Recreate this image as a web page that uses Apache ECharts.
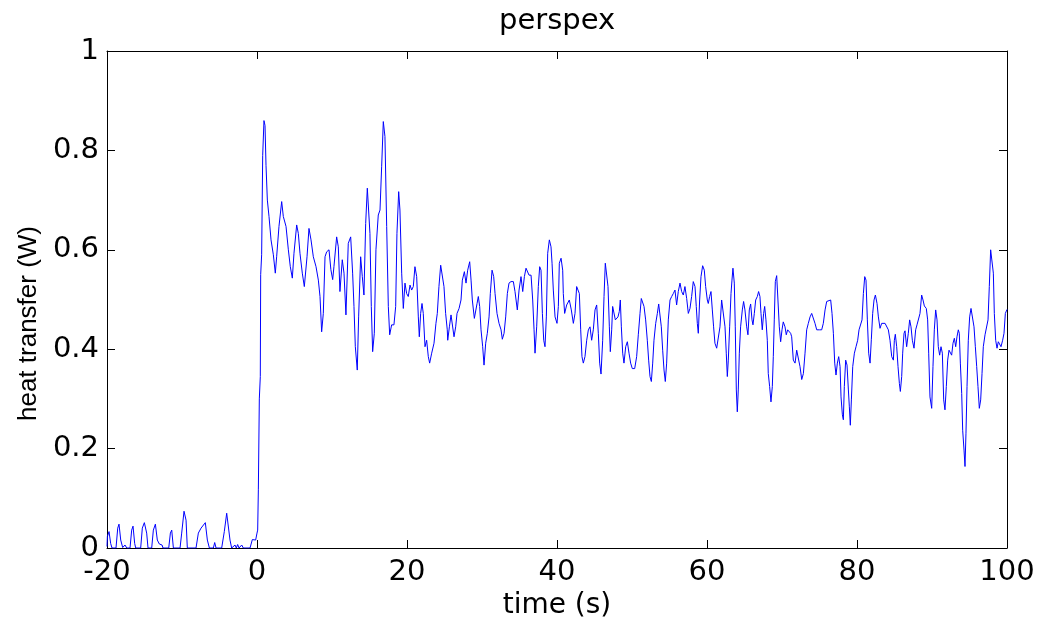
<!DOCTYPE html>
<html><head><meta charset="utf-8">
<script src="https://cdn.jsdelivr.net/npm/echarts@6/dist/echarts.min.js"></script>
<style>html,body{margin:0;padding:0;background:#fff;}#c{width:1045px;height:618px;}</style>
</head><body><div id="c"></div>
<script>
const titleText = 'perspex';
const xName = 'time (s)';
const yName = 'heat transfer (W)';
const xTicks = [-20, 0, 20, 40, 60, 80, 100];
const yTicks = [0, 0.2, 0.4, 0.6, 0.8, 1];

// pre-step (-20 .. 0 s)
const timeA = [-20.0, -19.95, -19.73, -19.51, -19.33, -18.80, -18.57, -18.40, -18.17, -17.91,
  -17.60, -17.37, -16.93, -16.71, -16.53, -16.31, -16.17, -15.51, -15.29, -15.02,
  -14.71, -14.53, -14.04, -13.82, -13.55, -13.29, -13.02, -12.66, -12.53, -11.77,
  -11.55, -11.37, -11.15, -10.26, -10.04, -9.73, -9.46, -9.29, -8.13, -7.82,
  -7.46, -7.24, -6.89, -6.62, -6.35, -5.82, -5.64, -5.46, -4.71, -4.36,
  -4.04, -3.82, -3.60, -3.38, -2.93, -2.76, -2.58, -2.40, -2.04, -1.82,
  -0.93, -0.62, -0.36, -0.18, 0.0, 0.09];
const heatA = [0.003, 0.023, 0.033, 0.009, 0, 0, 0.040, 0.048, 0.016, 0.001,
  0.006, 0, 0, 0.036, 0.044, 0.009, 0, 0, 0.040, 0.051,
  0.030, 0, 0, 0.036, 0.048, 0.016, 0.008, 0.006, 0, 0,
  0.030, 0.036, 0, 0, 0.030, 0.074, 0.056, 0, 0, 0.030,
  0.040, 0.036, 0.051, 0.016, 0, 0, 0.011, 0, 0, 0.033,
  0.070, 0.066, 0.016, 0, 0.006, 0, 0.007, 0, 0.006, 0,
  0, 0.017, 0.020, 0.016, 0.03, 0.036];

// step and 0 .. 10 s
const timeB = [0.18, 0.31, 0.44, 0.49, 0.62, 0.76, 0.93, 1.07, 1.20, 1.38,
  1.60, 1.87, 2.18, 2.44, 2.62, 2.93, 3.29, 3.51, 3.87, 4.18,
  4.44, 4.71, 4.93, 5.29, 5.51, 5.73, 6.04, 6.31, 6.67, 6.93,
  7.20, 7.51, 7.87, 8.18, 8.40, 8.62, 8.84, 9.07, 9.29, 9.60,
  9.85];
const heatB = [0.117, 0.30, 0.345, 0.55, 0.59, 0.79, 0.86, 0.85, 0.77, 0.70,
  0.667, 0.62, 0.59, 0.553, 0.586, 0.647, 0.697, 0.667, 0.647, 0.60,
  0.566, 0.543, 0.593, 0.65, 0.633, 0.593, 0.553, 0.526, 0.586, 0.643,
  0.62, 0.586, 0.566, 0.539, 0.506, 0.435, 0.472, 0.586, 0.596, 0.60,
  0.56];

// 10 .. 25.4 s
const timeC = [10.09, 10.26, 10.62, 10.84, 11.06, 11.37, 11.60, 11.86, 12.17, 12.49,
  12.75, 12.93, 13.11, 13.37, 13.55, 13.82, 14.04, 14.26, 14.49, 14.71,
  15.06, 15.24, 15.42, 15.64, 15.86, 16.17, 16.40, 16.62, 16.84, 17.06,
  17.29, 17.51, 17.69, 17.95, 18.26, 18.49, 18.66, 18.89, 19.06, 19.29,
  19.51, 19.73, 19.95, 20.17, 20.40, 20.62, 20.84, 21.06, 21.29, 21.51,
  21.64, 21.82, 22.00, 22.17, 22.40, 22.62, 22.84, 23.02, 23.29, 23.60,
  23.86, 24.04, 24.26, 24.49, 24.75, 24.93, 25.15, 25.37];
const heatC = [0.54, 0.566, 0.626, 0.606, 0.516, 0.58, 0.553, 0.469, 0.613, 0.626,
  0.553, 0.486, 0.405, 0.358, 0.465, 0.586, 0.546, 0.509, 0.653, 0.724,
  0.633, 0.486, 0.395, 0.432, 0.60, 0.67, 0.68, 0.767, 0.858, 0.828,
  0.647, 0.486, 0.429, 0.449, 0.449, 0.486, 0.633, 0.717, 0.68, 0.553,
  0.482, 0.533, 0.512, 0.506, 0.529, 0.519, 0.526, 0.566, 0.546, 0.465,
  0.425, 0.472, 0.492, 0.472, 0.405, 0.418, 0.385, 0.372, 0.392, 0.412,
  0.452, 0.472, 0.526, 0.569, 0.566, 0.526, 0.472, 0.439];

// 25.4 .. 40.5 s
const timeD = [25.43, 25.65, 25.87, 26.05, 26.27, 26.49, 26.67, 26.94, 27.20, 27.38,
  27.65, 27.87, 28.09, 28.36, 28.54, 28.71, 28.98, 29.16, 29.34, 29.51,
  29.69, 29.87, 30.09, 30.27, 30.49, 30.71, 30.94, 31.11, 31.34, 31.56,
  31.74, 32.00, 32.27, 32.54, 32.71, 32.94, 33.16, 33.38, 33.60, 33.87,
  34.18, 34.40, 34.71, 34.94, 35.20, 35.43, 35.65, 35.87, 36.09, 36.27,
  36.54, 36.76, 36.94, 37.07, 37.29, 37.51, 37.69, 37.87, 38.05, 38.23,
  38.40, 38.58, 38.76, 38.98, 39.20, 39.34, 39.51, 39.74, 40.00, 40.18,
  40.31, 40.54];
const heatD = [0.418, 0.445, 0.469, 0.465, 0.425, 0.445, 0.472, 0.482, 0.499, 0.539,
  0.556, 0.533, 0.559, 0.576, 0.539, 0.499, 0.462, 0.462, 0.492, 0.506,
  0.486, 0.439, 0.405, 0.368, 0.412, 0.432, 0.465, 0.512, 0.559, 0.546,
  0.512, 0.472, 0.452, 0.439, 0.42, 0.432, 0.465, 0.512, 0.533, 0.536,
  0.536, 0.516, 0.479, 0.519, 0.546, 0.516, 0.546, 0.563, 0.566, 0.549,
  0.549, 0.499, 0.439, 0.392, 0.445, 0.526, 0.566, 0.559, 0.472, 0.418,
  0.405, 0.465, 0.593, 0.62, 0.606, 0.573, 0.519, 0.465, 0.452, 0.486,
  0.573, 0.583];

// 40.7 .. 56.2 s
const timeE = [40.76, 40.84, 41.02, 41.29, 41.64, 41.91, 42.18, 42.40, 42.62, 42.80,
  42.98, 43.16, 43.33, 43.51, 43.73, 43.96, 44.18, 44.40, 44.62, 44.84,
  45.07, 45.29, 45.51, 45.69, 45.87, 46.09, 46.27, 46.44, 46.62, 46.80,
  46.98, 47.11, 47.29, 47.42, 47.60, 47.78, 47.96, 48.13, 48.31, 48.44,
  48.58, 48.76, 48.93, 49.16, 49.38, 49.60, 49.82, 50.04, 50.36, 50.62,
  50.84, 51.07, 51.24, 51.42, 51.60, 51.82, 52.04, 52.22, 52.40, 52.58,
  52.76, 52.93, 53.16, 53.38, 53.56, 53.73, 53.91, 54.09, 54.27, 54.44,
  54.62, 54.84, 55.07, 55.29, 55.51, 55.73, 55.95, 56.17];
const heatE = [0.559, 0.512, 0.472, 0.489, 0.499, 0.479, 0.452, 0.472, 0.526, 0.529,
  0.512, 0.439, 0.385, 0.372, 0.385, 0.418, 0.439, 0.445, 0.418, 0.439,
  0.479, 0.489, 0.432, 0.372, 0.35, 0.418, 0.506, 0.573, 0.573, 0.526,
  0.445, 0.395, 0.439, 0.486, 0.489, 0.459, 0.455, 0.465, 0.476, 0.499,
  0.445, 0.392, 0.372, 0.405, 0.415, 0.392, 0.372, 0.361, 0.361, 0.385,
  0.429, 0.472, 0.502, 0.506, 0.486, 0.459, 0.418, 0.378, 0.345, 0.335,
  0.372, 0.418, 0.452, 0.472, 0.491, 0.491, 0.445, 0.398, 0.358, 0.335,
  0.372, 0.459, 0.499, 0.506, 0.512, 0.519, 0.489, 0.516];

// 56.4 .. 71.2 s
const timeF = [56.40, 56.62, 56.84, 57.06, 57.29, 57.51, 57.73, 57.95, 58.17, 58.40,
  58.57, 58.71, 58.84, 59.02, 59.20, 59.42, 59.64, 59.82, 60.04, 60.17,
  60.35, 60.53, 60.71, 60.88, 61.06, 61.29, 61.51, 61.73, 61.95, 62.17,
  62.40, 62.57, 62.71, 62.84, 63.02, 63.20, 63.33, 63.46, 63.64, 63.77,
  63.91, 64.04, 64.17, 64.31, 64.48, 64.71, 64.88, 65.06, 65.29, 65.46,
  65.64, 65.82, 66.00, 66.13, 66.31, 66.49, 66.71, 66.88, 67.06, 67.20,
  67.37, 67.55, 67.69, 67.86, 68.04, 68.17, 68.35, 68.53, 68.71, 68.84,
  68.97, 69.11, 69.29, 69.46, 69.64, 69.82, 70.00, 70.17, 70.40, 70.57,
  70.75, 70.97, 71.15];
const heatF = [0.533, 0.516, 0.509, 0.526, 0.502, 0.472, 0.482, 0.506, 0.536, 0.526,
  0.486, 0.452, 0.432, 0.499, 0.546, 0.568, 0.559, 0.526, 0.499, 0.492,
  0.506, 0.516, 0.479, 0.445, 0.412, 0.402, 0.405, 0.445, 0.499, 0.502,
  0.445, 0.392, 0.345, 0.378, 0.445, 0.512, 0.539, 0.563, 0.533, 0.445,
  0.318, 0.274, 0.318, 0.392, 0.445, 0.479, 0.496, 0.479, 0.445, 0.429,
  0.479, 0.491, 0.459, 0.449, 0.472, 0.499, 0.506, 0.516, 0.506, 0.472,
  0.439, 0.472, 0.486, 0.459, 0.418, 0.351, 0.325, 0.294, 0.325, 0.385,
  0.459, 0.536, 0.548, 0.499, 0.445, 0.415, 0.439, 0.455, 0.445, 0.429,
  0.439, 0.442, 0.432];

// 71.3 .. 86.4 s
const timeG = [71.29, 71.51, 71.74, 71.96, 72.18, 72.40, 72.63, 72.85, 73.07, 73.29,
  73.51, 73.74, 73.96, 74.18, 74.40, 74.63, 74.98, 75.29, 75.51, 75.74,
  75.96, 76.18, 76.49, 76.67, 76.85, 77.03, 77.20, 77.38, 77.56, 77.74,
  77.87, 78.05, 78.18, 78.31, 78.49, 78.67, 78.85, 78.98, 79.11, 79.25,
  79.43, 79.65, 79.87, 80.09, 80.27, 80.49, 80.67, 80.85, 81.03, 81.20,
  81.38, 81.56, 81.74, 81.91, 82.09, 82.27, 82.45, 82.67, 82.85, 83.07,
  83.29, 83.51, 83.74, 83.96, 84.18, 84.40, 84.63, 84.85, 84.98, 85.11,
  85.29, 85.47, 85.65, 85.78, 85.96, 86.09, 86.27, 86.40];
const heatG = [0.425, 0.378, 0.372, 0.398, 0.401, 0.365, 0.339, 0.351, 0.392, 0.439,
  0.452, 0.465, 0.472, 0.469, 0.452, 0.439, 0.439, 0.439, 0.452, 0.479,
  0.496, 0.50, 0.499, 0.472, 0.432, 0.372, 0.348, 0.372, 0.385, 0.365,
  0.304, 0.268, 0.258, 0.325, 0.378, 0.368, 0.318, 0.284, 0.247, 0.298,
  0.365, 0.392, 0.405, 0.418, 0.439, 0.439, 0.459, 0.512, 0.546, 0.539,
  0.459, 0.392, 0.372, 0.419, 0.472, 0.499, 0.509, 0.492, 0.465, 0.442,
  0.452, 0.455, 0.452, 0.449, 0.439, 0.418, 0.385, 0.378, 0.418, 0.43,
  0.405, 0.365, 0.331, 0.315, 0.345, 0.392, 0.432, 0.437];

// 86.6 .. 100 s
const timeH = [86.62, 86.84, 87.02, 87.20, 87.38, 87.60, 87.82, 88.00, 88.22, 88.40,
  88.62, 88.80, 88.98, 89.24, 89.42, 89.56, 89.73, 89.96, 90.13, 90.31,
  90.49, 90.67, 90.84, 91.02, 91.20, 91.38, 91.56, 91.73, 91.91, 92.09,
  92.27, 92.44, 92.62, 92.80, 92.98, 93.16, 93.33, 93.51, 93.64, 93.78,
  93.96, 94.09, 94.27, 94.40, 94.53, 94.67, 94.84, 95.02, 95.20, 95.42,
  95.60, 95.78, 95.96, 96.13, 96.31, 96.49, 96.67, 96.84, 97.07, 97.29,
  97.47, 97.64, 97.82, 98.00, 98.18, 98.31, 98.49, 98.67, 98.84, 99.02,
  99.20, 99.42, 99.60, 99.78, 100.0];
const heatH = [0.405, 0.432, 0.459, 0.445, 0.418, 0.402, 0.439, 0.449, 0.452, 0.472,
  0.509, 0.499, 0.487, 0.482, 0.459, 0.392, 0.304, 0.281, 0.365, 0.439,
  0.479, 0.459, 0.405, 0.388, 0.405, 0.392, 0.298, 0.278, 0.325, 0.378,
  0.398, 0.398, 0.388, 0.412, 0.422, 0.405, 0.425, 0.439, 0.432, 0.372,
  0.311, 0.237, 0.197, 0.164, 0.231, 0.325, 0.418, 0.465, 0.482, 0.482,
  0.445, 0.405, 0.365, 0.325, 0.281, 0.298, 0.351, 0.405, 0.429, 0.425,
  0.459, 0.526, 0.60, 0.60, 0.553, 0.472, 0.418, 0.402, 0.415, 0.415,
  0.405, 0.418, 0.432, 0.472, 0.48];

const time = [].concat(timeA, timeB, timeC, timeD, timeE, timeF, timeG, timeH);
const heat = [].concat(heatA, heatB, heatC, heatD, heatE, heatF, heatG, heatH);
if (time.length !== heat.length) console.error('length mismatch', time.length, heat.length);
const seriesData = time.map((t, i) => [t, heat[i]]);

const FONT = 'DejaVu Sans';
const TITLE_SIZE = 29;
const GRID = { left: 107, right: 38, top: 51, bottom: 70 };
const W = 1045;

// centre the title over the plot box (not the whole canvas)
const ctx = document.createElement('canvas').getContext('2d');
ctx.font = TITLE_SIZE + 'px "' + FONT + '"';
const titleWidth = ctx.measureText(titleText).width;
const plotCentre = GRID.left + (W - GRID.left - GRID.right) / 2;

const frame = { show: true, onZero: false, lineStyle: { color: '#000', width: 1 } };
const tick = { show: true, inside: true, length: 8, lineStyle: { color: '#000', width: 1 } };

const chart = echarts.init(document.getElementById('c'), null, { renderer: 'canvas' });
chart.setOption({
  animation: false,
  backgroundColor: '#ffffff',
  title: {
    text: titleText, left: Math.round(plotCentre - titleWidth / 2), top: 7, padding: 0,
    textStyle: { fontFamily: FONT, fontSize: TITLE_SIZE, fontWeight: 'normal', color: '#000' }
  },
  grid: Object.assign({ containLabel: false, outerBoundsMode: 'none' }, GRID),
  xAxis: [{
    type: 'value', position: 'bottom', min: xTicks[0], max: xTicks[xTicks.length - 1],
    interval: xTicks[1] - xTicks[0],
    name: xName, nameLocation: 'middle', nameGap: 36,
    nameTextStyle: { fontFamily: FONT, fontSize: 28, color: '#000' },
    axisLine: frame, axisTick: tick, splitLine: { show: false },
    axisLabel: { show: true, margin: 10, fontFamily: FONT, fontSize: 29, color: '#000',
      formatter: v => String(v) }
  }, {
    type: 'value', position: 'top', min: xTicks[0], max: xTicks[xTicks.length - 1],
    interval: xTicks[1] - xTicks[0],
    axisLine: frame, axisTick: tick, splitLine: { show: false }, axisLabel: { show: false }
  }],
  yAxis: [{
    type: 'value', position: 'left', min: yTicks[0], max: yTicks[yTicks.length - 1],
    interval: yTicks[1] - yTicks[0],
    name: yName, nameLocation: 'middle', nameRotate: 90, nameGap: 65,
    nameTextStyle: { fontFamily: 'Liberation Sans', fontSize: 26, color: '#000', padding: [0, 48, 0, 0] },
    axisLine: frame, axisTick: tick, splitLine: { show: false },
    axisLabel: { show: true, margin: 8, fontFamily: FONT, fontSize: 29, color: '#000',
      formatter: v => String(Math.round(v * 10) / 10) }
  }, {
    type: 'value', position: 'right', min: yTicks[0], max: yTicks[yTicks.length - 1],
    interval: yTicks[1] - yTicks[0],
    axisLine: frame, axisTick: tick, splitLine: { show: false }, axisLabel: { show: false }
  }],
  series: [{
    type: 'line', xAxisIndex: 0, yAxisIndex: 0, data: seriesData,
    showSymbol: false, symbol: 'none', clip: true,
    lineStyle: { color: '#0000ff', width: 1 }
  }]
});
</script></body></html>
